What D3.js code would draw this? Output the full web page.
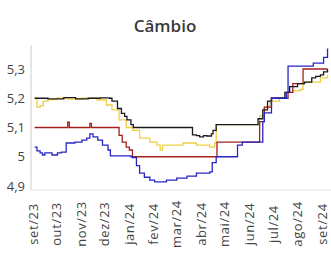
<!DOCTYPE html>
<html>
<head>
<meta charset="utf-8">
<script src="https://cdn.jsdelivr.net/npm/d3@7"></script>
<style>
  body { margin: 0; background: #fff; }
  text { font-family: "Open Sans", sans-serif; }
</style>
</head>
<body>
<svg id="chart" width="331" height="256"></svg>
<script>
var chartTitle = "Câmbio";
var yTicks = [4.9, 5.0, 5.1, 5.2, 5.3];
var monthTicks = ["2023-09-01","2023-10-01","2023-11-01","2023-12-01","2024-01-01","2024-02-01",
  "2024-03-01","2024-04-01","2024-05-01","2024-06-01","2024-07-01","2024-08-01","2024-09-01"];

var yellowData = [
  ["2023-09-03",5.20],["2023-09-06",5.17],["2023-09-10",5.175],["2023-09-14",5.19],["2023-09-20",5.195],
  ["2023-10-01",5.20],["2023-10-15",5.197],["2023-11-01",5.20],["2023-11-21",5.194],["2023-12-03",5.177],
  ["2023-12-10",5.16],["2023-12-19",5.126],["2023-12-28",5.10],["2024-01-05",5.09],["2024-01-14",5.064],
  ["2024-01-27",5.05],["2024-02-05",5.04],["2024-02-09",5.023],["2024-02-12",5.04],["2024-02-25",5.04],
  ["2024-03-09",5.047],["2024-03-26",5.04],["2024-04-12",5.033],["2024-04-18",5.047],["2024-04-20",5.11],
  ["2024-06-10",5.11],["2024-06-14",5.14],["2024-06-20",5.17],["2024-06-27",5.19],["2024-07-09",5.20],
  ["2024-07-16",5.22],["2024-07-26",5.225],["2024-08-04",5.23],["2024-08-08",5.255],["2024-08-26",5.255],
  ["2024-08-30",5.27],["2024-09-08",5.28]
];
var redData = [
  ["2023-09-03",5.10],["2023-10-13",5.10],["2023-10-15",5.118],["2023-10-17",5.10],["2023-11-10",5.10],
  ["2023-11-12",5.114],["2023-11-14",5.10],["2023-12-15",5.10],["2023-12-19",5.073],["2023-12-23",5.05],
  ["2023-12-28",5.033],["2024-01-01",5.023],["2024-01-05",5.0],["2024-04-20",5.0],["2024-04-21",5.05],
  ["2024-06-10",5.05],["2024-06-14",5.12],["2024-06-20",5.17],["2024-06-29",5.20],["2024-07-12",5.20],
  ["2024-07-20",5.22],["2024-07-26",5.25],["2024-08-01",5.25],["2024-08-08",5.30],["2024-09-08",5.30]
];
var blackData = [
  ["2023-09-03",5.20],["2023-09-20",5.198],["2023-10-10",5.202],["2023-10-25",5.198],["2023-11-10",5.20],
  ["2023-11-25",5.201],["2023-12-07",5.20],["2023-12-10",5.19],["2023-12-17",5.165],["2023-12-22",5.148],
  ["2023-12-26",5.138],["2023-12-29",5.126],["2024-01-03",5.11],["2024-01-06",5.10],["2024-03-20",5.10],
  ["2024-03-21",5.075],["2024-03-26",5.072],["2024-03-30",5.068],["2024-04-04",5.072],["2024-04-08",5.071],
  ["2024-04-14",5.078],["2024-04-16",5.09],["2024-04-20",5.11],["2024-06-07",5.11],["2024-06-12",5.13],
  ["2024-06-18",5.16],["2024-06-24",5.19],["2024-06-29",5.20],["2024-07-12",5.20],["2024-07-16",5.22],
  ["2024-07-22",5.24],["2024-07-31",5.24],["2024-08-01",5.25],["2024-08-10",5.255],["2024-08-19",5.27],
  ["2024-08-24",5.275],["2024-08-30",5.28],["2024-09-03",5.29],["2024-09-08",5.30]
];
var blueData = [
  ["2023-09-03",5.033],["2023-09-06",5.02],["2023-09-10",5.013],["2023-09-13",5.006],["2023-09-16",5.013],
  ["2023-09-25",5.006],["2023-10-02",5.013],["2023-10-07",5.016],["2023-10-11",5.016],["2023-10-13",5.047],
  ["2023-10-24",5.05],["2023-11-02",5.057],["2023-11-08",5.064],["2023-11-12",5.078],["2023-11-16",5.068],
  ["2023-11-22",5.057],["2023-11-28",5.04],["2023-12-05",5.023],["2023-12-08",5.003],["2024-01-03",5.0],
  ["2024-01-05",4.997],["2024-01-10",4.97],["2024-01-14",4.944],["2024-01-20",4.93],["2024-01-27",4.92],
  ["2024-02-02",4.914],["2024-02-09",4.914],["2024-02-17",4.92],["2024-03-01",4.927],["2024-03-14",4.934],
  ["2024-03-26",4.944],["2024-04-12",4.948],["2024-04-15",4.98],["2024-04-20",5.0],["2024-05-10",5.0],
  ["2024-05-17",5.04],["2024-05-23",5.05],["2024-06-11",5.05],["2024-06-18",5.12],["2024-06-20",5.15],
  ["2024-06-29",5.20],["2024-07-15",5.20],["2024-07-18",5.22],["2024-07-20",5.31],["2024-08-19",5.31],
  ["2024-08-21",5.32],["2024-08-30",5.32],["2024-09-03",5.34],["2024-09-08",5.37]
];

var series = [
  {data: yellowData, color: "#efcf45"},
  {data: redData, color: "#a3201f"},
  {data: blackData, color: "#1a1a1a"},
  {data: blueData, color: "#2626c4"}
];

var parse = d3.timeParse("%Y-%m-%d");
var pt = d3.timeFormatLocale({
  dateTime: "%d/%m/%Y %H:%M:%S", date: "%d/%m/%Y", time: "%H:%M:%S",
  periods: ["AM", "PM"],
  days: ["domingo","segunda","terça","quarta","quinta","sexta","sábado"],
  shortDays: ["dom","seg","ter","qua","qui","sex","sáb"],
  months: ["janeiro","fevereiro","março","abril","maio","junho","julho","agosto","setembro","outubro","novembro","dezembro"],
  shortMonths: ["jan","fev","mar","abr","mai","jun","jul","ago","set","out","nov","dez"]
});
var monthFmt = pt.format("%b/%y");
var numFmt = d3.formatLocale({decimal: ",", thousands: ".", grouping: [3], currency: ["R$", ""]}).format(".2~f");

var plotLeft = 31, plotRight = 331, plotTop = 45, plotBottom = 190;

var x = d3.scaleTime()
    .domain([parse("2023-09-01"), parse("2024-09-01")])
    .range([33, 322]);
var y = d3.scaleLinear()
    .domain([4.9, 5.3])
    .range([186, 69]);

var svg = d3.select("#chart");

svg.append("text")
    .attr("x", 165)
    .attr("y", 32)
    .attr("text-anchor", "middle")
    .style("font-size", "17px")
    .style("font-weight", 600)
    .style("fill", "#3a3a3a")
    .text(chartTitle);

// axis lines
svg.append("line")
    .attr("x1", plotLeft).attr("x2", plotLeft)
    .attr("y1", plotTop).attr("y2", plotBottom)
    .style("stroke", "#ccc");
svg.append("line")
    .attr("x1", plotLeft).attr("x2", plotRight)
    .attr("y1", plotBottom).attr("y2", plotBottom)
    .style("stroke", "#e4e4e4");

var yAxis = svg.append("g")
    .attr("transform", "translate(" + plotLeft + ",0)")
    .call(d3.axisLeft(y).tickValues(yTicks).tickSize(0).tickPadding(6).tickFormat(numFmt));
yAxis.select(".domain").remove();
yAxis.selectAll("text")
    .style("font-size", "13px")
    .style("fill", "#444")
    .style("font-family", "'Open Sans', sans-serif");

svg.append("g").selectAll("text")
    .data(monthTicks.map(parse))
  .enter().append("text")
    .attr("transform", function(d) { return "translate(" + x(d) + ",224) rotate(-90)"; })
    .attr("text-anchor", "middle")
    .attr("dy", "0.35em")
    .style("font-size", "13px")
    .style("letter-spacing", "0.6px")
    .style("fill", "#444")
    .text(monthFmt);

var line = d3.line()
    .curve(d3.curveStepAfter)
    .x(function(d) { return x(parse(d[0])); })
    .y(function(d) { return y(d[1]); });

svg.append("g").selectAll("path")
    .data(series)
  .enter().append("path")
    .attr("d", function(s) { return line(s.data); })
    .style("fill", "none")
    .style("stroke", function(s) { return s.color; })
    .style("stroke-width", 1.3);
</script>
</body>
</html>
